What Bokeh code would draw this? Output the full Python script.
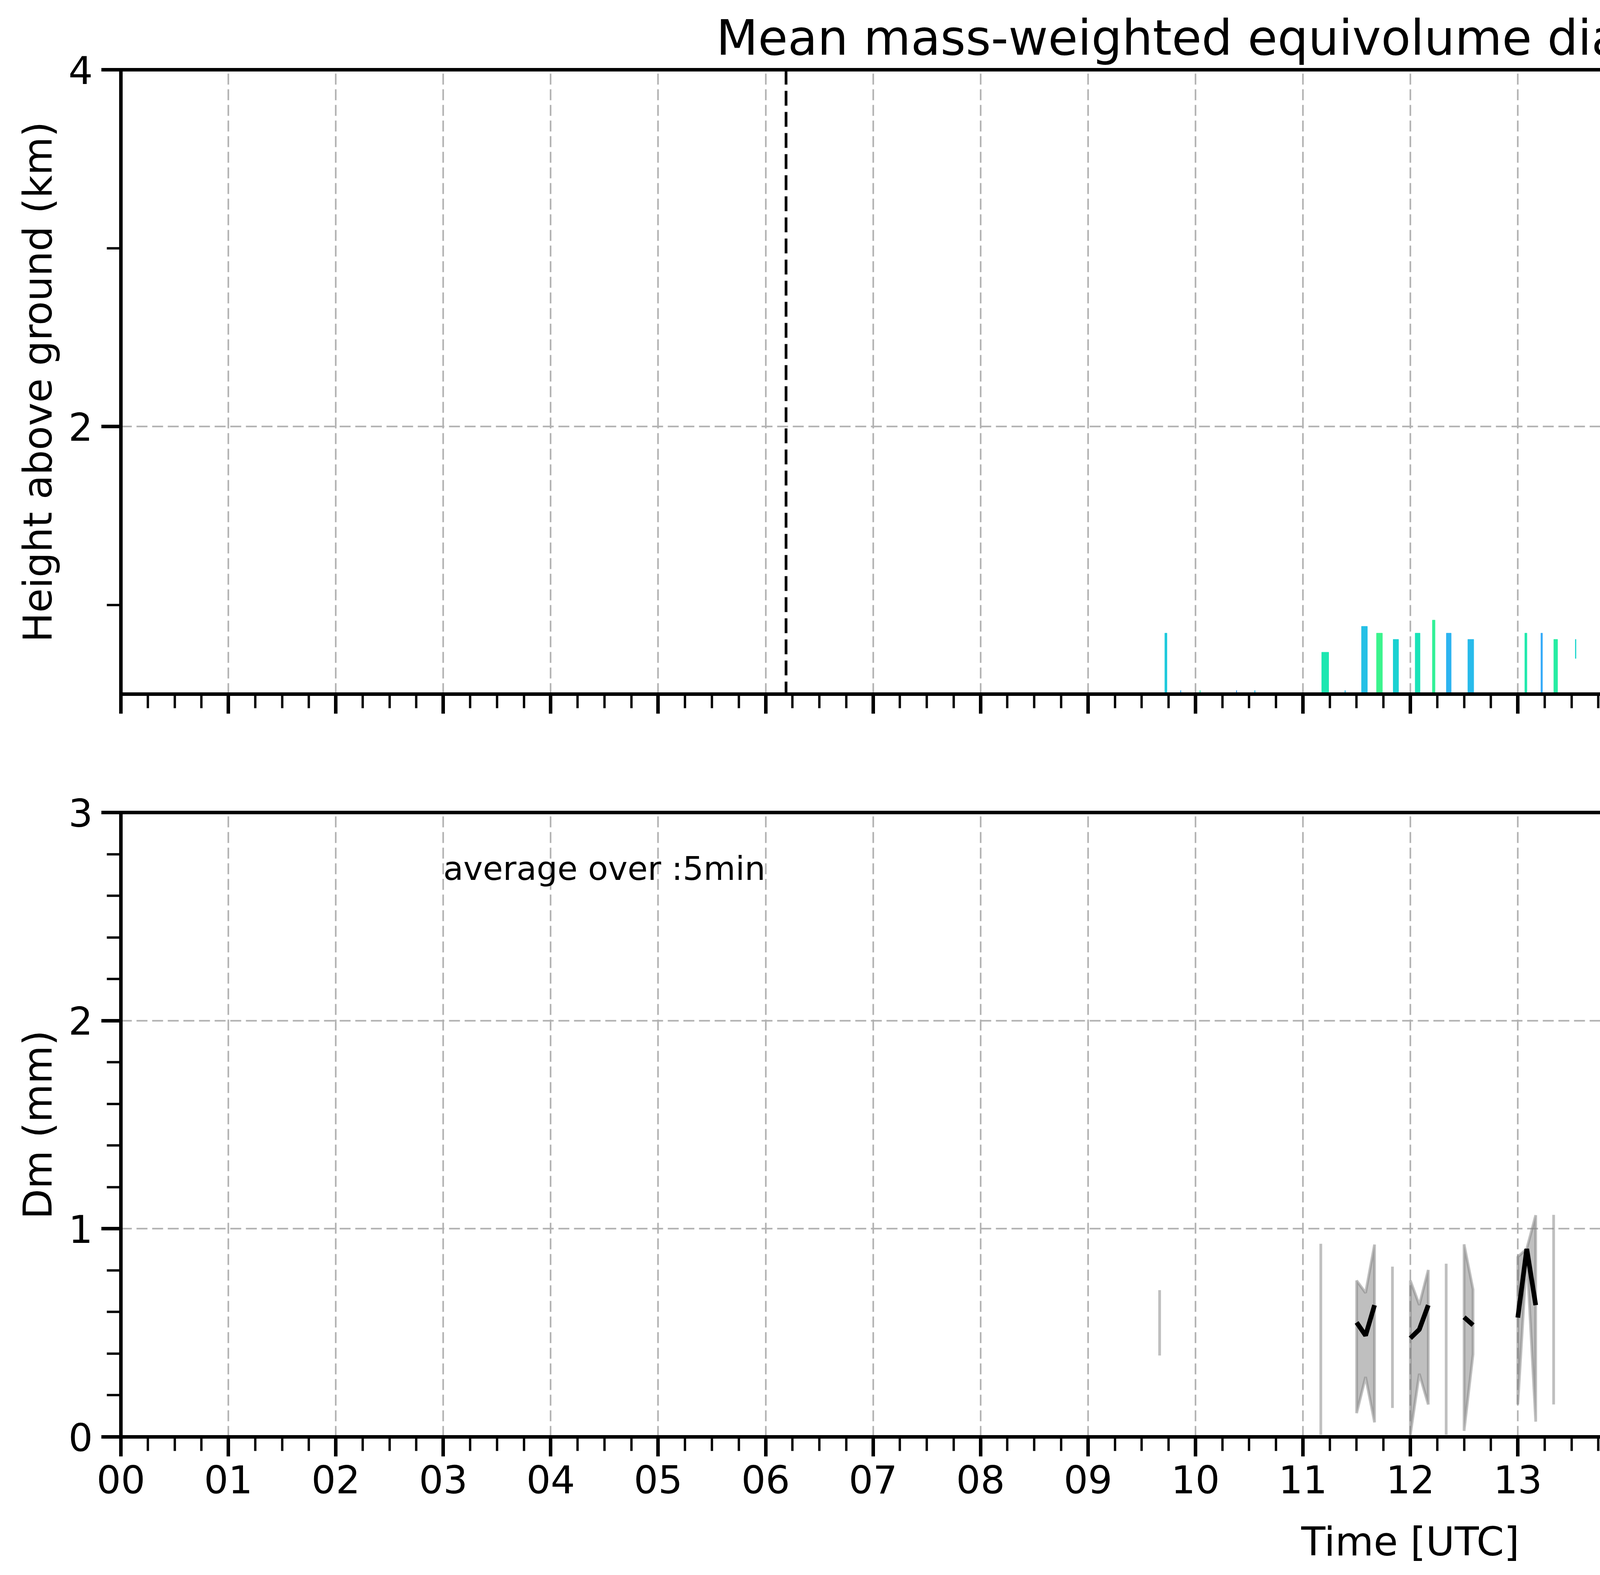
import numpy as np
from bokeh.plotting import figure
from bokeh.models import (ColumnDataSource, LinearColorMapper, FixedTicker, Span, Label,
                          Range1d, Legend, LegendItem, PrintfTickFormatter)
from bokeh.palettes import Turbo256
from bokeh.layouts import column, row
from bokeh.embed import file_html
from bokeh.resources import INLINE

FONT = "DejaVu Sans"

# ---- top panel: radar Dm curtain, drawn as strips (hour from/to, km from/to, Dm in mm)
strip_t0 = [9.715, 11.175, 11.545, 11.685, 11.84, 12.045, 12.205, 12.335, 12.535, 13.065,
            13.215, 13.335, 13.535, 13.845, 14.025, 14.025, 14.725, 14.865, 15.195, 15.675,
            15.675, 15.825, 16.335,
            17.035, 18.035, 18.205, 18.33, 18.735, 19.705, 19.835, 20.195, 20.235, 20.345,
            20.835, 21.225, 21.355, 21.695, 22.56, 22.835, 23.585,
            9.86, 10.04, 10.38, 10.55, 11.39, 14.08, 14.19, 21.86, 22.04, 22.18, 22.33]
strip_t1 = [9.735, 11.24, 11.6, 11.74, 11.89, 12.09, 12.23, 12.38, 12.59, 13.085,
            13.23, 13.37, 13.542, 13.89, 14.035, 14.035, 14.735, 14.875, 15.21, 15.74,
            15.682, 15.88, 16.39,
            17.045, 18.09, 18.24, 18.39, 18.745, 19.75, 19.875, 20.205, 20.245, 20.355,
            20.845, 21.235, 21.365, 21.73, 22.59, 22.845, 23.595,
            9.866, 10.046, 10.386, 10.556, 11.396, 14.086, 14.196, 21.9, 22.1, 22.2, 22.4]
strip_h0 = [0.5, 0.5, 0.5, 0.5, 0.5, 0.5, 0.5, 0.5, 0.5, 0.5,
            0.5, 0.5, 0.70, 0.5, 0.5, 0.95, 1.06, 0.88, 0.5, 0.95,
            0.5, 0.88, 1.06,
            0.55, 1.347, 1.31, 1.274, 1.165, 1.454, 1.454, 1.38, 1.38, 1.38,
            1.454, 1.526, 1.454, 1.096, 1.022, 1.925, 1.743,
            0.5, 0.5, 0.5, 0.5, 0.5, 0.5, 0.5, 0.5, 0.5, 0.5, 0.5]
strip_h1 = [0.842, 0.735, 0.88, 0.842, 0.807, 0.842, 0.915, 0.842, 0.807, 0.842,
            0.842, 0.807, 0.807, 0.77, 0.77, 1.096, 1.096, 1.096, 0.59, 1.13,
            0.95, 1.13, 1.31,
            0.60, 1.60, 1.563, 1.634, 1.708, 1.708, 1.818, 1.78, 1.818, 1.89,
            2.035, 2.07, 1.99, 1.204, 1.454, 2.142, 1.99,
            0.52, 0.52, 0.52, 0.52, 0.52, 0.52, 0.52, 0.52, 0.52, 0.52, 0.52]
strip_dm = [0.55, 0.68, 0.52, 0.78, 0.58, 0.66, 0.75, 0.48, 0.5, 0.7,
            0.45, 0.72, 0.6, 0.7, 0.6, 0.78, 0.4, 0.62, 0.62, 0.66,
            0.6, 0.72, 0.5,
            0.62, 0.55, 0.72, 0.74, 0.55, 0.66, 0.55, 0.4, 0.6, 0.68,
            0.6, 0.76, 0.5, 0.62, 0.6, 0.7, 0.6,
            0.45, 0.7, 0.4, 0.5, 0.5, 0.6, 0.45, 0.7, 0.62, 0.5, 0.62]

missing_t0 = [23.88]
missing_t1 = [24.0]
event_hours = [6.19, 16.74]

# ---- bottom panel: 5 min radar Dm statistics (minutes after midnight)
rad_minutes = [580, 670, 690, 695, 700, 710, 720, 725, 730, 740,
               750, 755, 780, 785, 790, 800, 830, 840, 940]
rad_dm_max = [0.705, 0.928, 0.751, 0.692, 0.924, 0.818, 0.751, 0.634, 0.802, 0.832,
              0.925, 0.708, 0.865, 0.904, 1.065, 1.067, 0.804, 0.70, 0.694]
rad_dm_min = [0.391, 0.011, 0.114, 0.288, 0.070, 0.139, 0.011, 0.303, 0.156, 0.011,
              0.029, 0.397, 0.156, 0.87, 0.073, 0.156, 0.549, 0.415, 0.116]
rad_dm_med = [np.nan, np.nan, 0.550, 0.487, 0.633, np.nan, 0.474, 0.516, 0.633, np.nan,
              0.575, 0.537, 0.573, 0.903, 0.633, np.nan, np.nan, np.nan, np.nan]

# parsivel had no valid 5 min values on this day
par_minutes = [720]
par_dm_min = [np.nan]
par_dm_max = [np.nan]
par_dm_med = [np.nan]

hour_ticks = list(range(24))
hour_labels = ["%02d" % h for h in hour_ticks]
cbar_ticks = [0.0, 0.4, 0.8, 1.2, 1.6, 2.0]

LEFT = 309
FW, FH = 6602, 1598
GRID = "#b0b0b0"


def style_axes(f, yticks, yminor, show_xlabels):
    f.x_range = Range1d(0, 24)
    f.outline_line_color = "black"
    f.outline_line_width = 9
    f.outline_line_alpha = 1
    xt = FixedTicker(ticks=hour_ticks, minor_ticks=list(np.arange(0, 24.01, 0.25)))
    yt = FixedTicker(ticks=yticks, minor_ticks=yminor)
    f.xaxis.ticker = xt
    f.yaxis.ticker = yt
    f.xgrid.ticker = xt
    f.ygrid.ticker = yt
    for g in (f.xgrid, f.ygrid):
        g.grid_line_color = GRID
        g.grid_line_width = 4
        g.grid_line_dash = "28 12"
    for ax in (f.xaxis, f.yaxis):
        ax.axis_line_width = 9
        ax.major_tick_in = 0
        ax.minor_tick_in = 0
        ax.major_tick_out = 50
        ax.minor_tick_out = 36
        ax.major_tick_line_width = 9
        ax.minor_tick_line_width = 6
        ax.major_label_standoff = 22
        ax.major_label_text_font = FONT
        ax.major_label_text_font_size = "98px"
        ax.major_label_text_color = "black"
        ax.axis_label_text_font = FONT
        ax.axis_label_text_font_size = "101px"   # "100px" gets read as a thin weight in svg
        ax.axis_label_text_font_style = "normal"
        ax.axis_label_text_color = "black"
        ax.axis_label_standoff = 16
    f.xaxis.axis_label_standoff = 62
    if show_xlabels:
        f.xaxis.major_label_overrides = {h: lab for h, lab in zip(hour_ticks, hour_labels)}
    else:
        f.xaxis.major_label_overrides = {h: "" for h in hour_ticks}


# ---------------- top panel
p = figure(frame_width=FW, frame_height=FH, y_range=Range1d(0.5, 4.0),
           toolbar_location=None, output_backend="svg",
           min_border_left=LEFT, min_border_right=30, min_border_top=178, min_border_bottom=200,
           title="Mean mass-weighted equivolume diameter on 20260220")
style_axes(p, [2, 4], [1, 3], False)
p.yaxis.axis_label = "Height above ground (km)"
p.title.align = "center"
p.title.text_font = FONT
p.title.text_font_size = "124px"
p.title.text_font_style = "normal"
p.title.text_color = "black"
p.title.standoff = 20

mapper = LinearColorMapper(palette=Turbo256, low=0.0, high=2.0)
p.quad(left=missing_t0, right=missing_t1, bottom=p.y_range.start, top=p.y_range.end,
       fill_color="#d9d9d9", line_color=None)
strips = ColumnDataSource(dict(t0=strip_t0, t1=strip_t1, h0=strip_h0, h1=strip_h1, dm=strip_dm))
p.quad(left="t0", right="t1", bottom="h0", top="h1", source=strips,
       fill_color={"field": "dm", "transform": mapper},
       line_color={"field": "dm", "transform": mapper}, line_width=1)
for h in event_hours:
    p.add_layout(Span(location=h, dimension="height", line_color="black",
                      line_width=7, line_dash="38 16"))

# ---------------- colour bar as its own small figure
cb = figure(frame_width=113, frame_height=FH, x_range=Range1d(0, 1), y_range=Range1d(0, 2),
            x_axis_type=None, y_axis_location="right", toolbar_location=None,
            output_backend="svg", min_border_left=43, min_border_right=196,
            min_border_top=178, min_border_bottom=200)
levels = np.linspace(0, 2, len(Turbo256) + 1)
cb.quad(left=0, right=1, bottom=levels[:-1], top=levels[1:],
        fill_color=list(Turbo256), line_color=list(Turbo256), line_width=1)
cb.grid.visible = False
cb.outline_line_color = "black"
cb.outline_line_width = 5
cb.outline_line_alpha = 1
cb.yaxis.ticker = FixedTicker(ticks=cbar_ticks, minor_ticks=[])
cb.yaxis.formatter = PrintfTickFormatter(format="%.1f")
cb.yaxis.axis_line_width = 5
cb.yaxis.major_tick_in = 0
cb.yaxis.major_tick_out = 35
cb.yaxis.major_tick_line_width = 5
cb.yaxis.major_label_standoff = 22
cb.yaxis.major_label_text_font = FONT
cb.yaxis.major_label_text_font_size = "84px"
cb.yaxis.major_label_text_color = "black"

# colour bar title, in a blank strip so it reads bottom-to-top
cl = figure(frame_width=130, frame_height=FH, x_range=Range1d(0, 1), y_range=Range1d(0, 1),
            x_axis_type=None, y_axis_type=None, toolbar_location=None, output_backend="svg",
            min_border_left=0, min_border_right=0, min_border_top=178, min_border_bottom=200)
cl.grid.visible = False
cl.outline_line_color = None
cl.add_layout(Label(x=0.35, y=0.5, text="Dm (mm)", angle=np.pi / 2,
                    text_align="center", text_baseline="middle",
                    text_font=FONT, text_font_size="84px", text_color="black"))

# ---------------- bottom panel
b = figure(frame_width=FW, frame_height=FH, y_range=Range1d(0, 3),
           toolbar_location=None, output_backend="svg",
           min_border_left=LEFT, min_border_right=30, min_border_top=103, min_border_bottom=320)
style_axes(b, [0, 1, 2, 3], [round(v, 1) for v in np.arange(0, 3.01, 0.2)], True)
b.yaxis.axis_label = "Dm (mm)"
b.xaxis.axis_label = "Time [UTC]"


def stat_shapes(minutes, lo, hi, med):
    t = np.array(minutes) / 60.0
    lo, hi, med = np.array(lo), np.array(hi), np.array(med)
    runs, start = [], 0
    for i in range(1, len(minutes) + 1):
        if i == len(minutes) or minutes[i] - minutes[i - 1] > 5:
            runs.append((start, i))
            start = i
    xs = [list(t[a:c]) + list(t[a:c][::-1]) for a, c in runs]
    ys = [list(hi[a:c]) + list(lo[a:c][::-1]) for a, c in runs]
    mx, my = [], []
    for a, c in runs:
        mx += list(t[a:c]) + [np.nan]
        my += list(med[a:c]) + [np.nan]
    return xs, ys, mx, my


rx, ry, rmx, rmy = stat_shapes(rad_minutes, rad_dm_min, rad_dm_max, rad_dm_med)
px, py, pmx, pmy = stat_shapes(par_minutes, par_dm_min, par_dm_max, par_dm_med)

r_fill = b.patches(xs=rx, ys=ry, fill_color="gray", fill_alpha=0.5,
                   line_color="gray", line_alpha=0.5, line_width=7)
r_med = b.line(rmx, rmy, line_color="black", line_width=12)
r_pfill = b.patches(xs=px, ys=py, fill_color="#bf00bf", fill_alpha=0.3,
                    line_color="#bf00bf", line_alpha=0.3, line_width=7)
r_pmed = b.line(pmx, pmy, line_color="#bf00bf", line_width=12)

legend = Legend(items=[LegendItem(label="Min-Max Range radar Dm", renderers=[r_fill]),
                       LegendItem(label="radar(xmacs-wmacs)_Dm_median", renderers=[r_med]),
                       LegendItem(label="Min-Max Range parsivel Dm", renderers=[r_pfill]),
                       LegendItem(label="parsivel_Dm_median", renderers=[r_pmed])],
                location="top_right")
legend.label_text_font = FONT
legend.label_text_font_size = "71px"
legend.label_text_color = "black"
legend.glyph_width = 145
legend.glyph_height = 54
legend.label_standoff = 56
legend.spacing = 17
legend.padding = 22
legend.margin = 34
legend.border_line_color = "#d0d0d0"
legend.border_line_width = 6
legend.background_fill_alpha = 0.8
b.add_layout(legend)

b.add_layout(Label(x=3.0, y=2.73, text="average over :5min", text_font=FONT,
                   text_font_size="84px", text_baseline="alphabetic", text_color="black"))

layout = column(row(p, cb, cl), b)
open("out.html", "w").write(file_html(layout, INLINE))
